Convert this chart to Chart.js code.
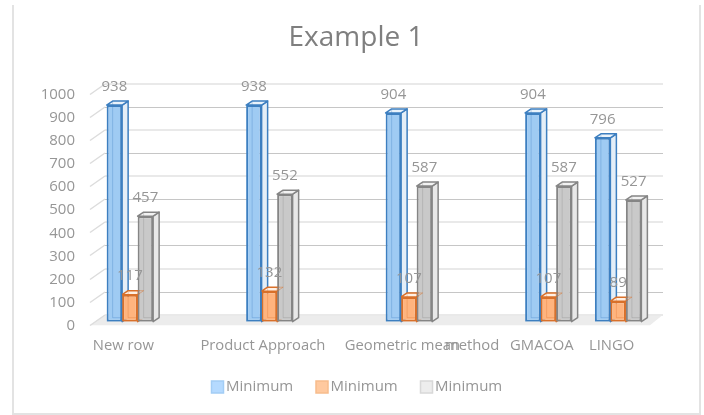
<!DOCTYPE html>
<html>
<head>
<meta charset="utf-8">
<title>Example 1</title>
<script src="https://cdn.jsdelivr.net/npm/chart.js@4"></script>
<style>
  html, body { margin: 0; padding: 0; background: #fff; }
  #wrap { position: relative; width: 704px; height: 415px; overflow: hidden; }
  #frame { position: absolute; left: 12px; top: 5px; width: 685px; height: 408px;
           border: 2px solid #e3e3e3; border-top: none; pointer-events: none; }
</style>
</head>
<body>
<div id="wrap">
  <div id="frame"></div>
  <canvas id="myChart" width="704" height="415"></canvas>
</div>
<script>
const categories = ['New row', '', 'Product Approach', '', 'Geometric mean', 'method', 'GMACOA', 'LINGO'];
const seriesNames = ['Minimum', 'Minimum', 'Minimum'];
const blueValues = [938, null, 938, null, 904, null, 904, 796];
const orangeValues = [117, null, 132, null, 107, null, 107, 89];
const greyValues = [457, null, 552, null, 587, null, 587, 527];
const yTicks = [0, 100, 200, 300, 400, 500, 600, 700, 800, 900, 1000];

const textColor = '#969696';
const fontFamily = "'Open Sans', sans-serif";

// depth of a bar and of the back wall
const barDx = 6, barDy = 4;
const wallDy = 7;

const looks = [
  { front: '#9fcbf3', side: '#e4eef7', top: '#eaf3fb', edge: '#3d7fc0', swatch: '#b5daff', swatchEdge: '#a3cdf5' },
  { front: '#ffb47e', side: '#fbdcc6', top: '#fff0e4', edge: '#d9702a', swatch: '#ffc99f', swatchEdge: '#f7bc8c' },
  { front: '#c9c9c9', side: '#e8e8e8', top: '#f2f2f2', edge: '#858585', swatch: '#ededed', swatchEdge: '#d8d8d8' }
];

function poly(c, pts, fill, stroke, width) {
  c.beginPath();
  pts.forEach((p, i) => i ? c.lineTo(p[0], p[1]) : c.moveTo(p[0], p[1]));
  c.closePath();
  if (fill) { c.fillStyle = fill; c.fill(); }
  if (stroke) { c.strokeStyle = stroke; c.lineWidth = width; c.lineJoin = 'round'; c.stroke(); }
}

function boxOf(bar) {
  const p = bar.getProps(['x', 'y', 'base', 'width'], true);
  return { l: p.x - p.width / 2, r: p.x + p.width / 2, t: p.y, b: p.base };
}

function eachBar(chart, d, fn) {
  chart.getDatasetMeta(d).data.forEach((bar, i) => {
    if (chart.data.datasets[d].data[i] !== null) fn(boxOf(bar));
  });
}

// title sits centred over the frame rather than the whole canvas
const titleShift = {
  id: 'titleShift',
  afterLayout(chart) { chart.titleBlock.left = 59; }
};

const wall = {
  id: 'wall',
  beforeDatasetsDraw(chart) {
    const c = chart.ctx, y = chart.scales.y;
    const backL = 105, backR = 663, frontL = 90, frontR = 650;
    c.save();
    const y0 = y.getPixelForValue(0);
    poly(c, [[frontL, y0 + 3.5], [backL, y0 - wallDy], [backR, y0 - wallDy], [frontR, y0 + 3.5]], '#ececec');
    yTicks.forEach(v => {
      const py = Math.round(y.getPixelForValue(v) - wallDy);
      const soft = v % 200 === 0;
      c.strokeStyle = soft ? '#e9e9e9' : '#c6c6c6';
      c.lineWidth = soft ? 2 : 1;
      const ly = soft ? py : py + 0.5;
      c.beginPath(); c.moveTo(backL, ly); c.lineTo(backR, ly); c.stroke();
      c.strokeStyle = '#dcdcdc';
      c.lineWidth = 1.5;
      c.beginPath(); c.moveTo(frontL, py + 10.5); c.lineTo(backL, py); c.stroke();
    });
    c.restore();
  }
};

// side and top faces go under the flat bars, the hidden back edges over them
const depth = {
  id: 'depth',
  beforeDatasetsDraw(chart) {
    const c = chart.ctx;
    c.save();
    looks.forEach((look, d) => eachBar(chart, d, b => {
      poly(c, [[b.r, b.t], [b.r + barDx, b.t - barDy], [b.r + barDx, b.b - barDy], [b.r, b.b]], look.side, look.edge, 1.5);
      poly(c, [[b.l, b.t], [b.l + barDx, b.t - barDy], [b.r + barDx, b.t - barDy], [b.r, b.t]], look.top, look.edge, 1.5);
    }));
    c.restore();
  },
  afterDatasetsDraw(chart) {
    const c = chart.ctx;
    c.save();
    c.lineWidth = 1;
    looks.forEach((look, d) => eachBar(chart, d, b => {
      c.globalAlpha = 0.3;
      c.strokeStyle = look.edge;
      c.beginPath();
      c.moveTo(b.l + barDx, b.t - barDy + 1);
      c.lineTo(b.l + barDx, b.b - barDy);
      c.lineTo(b.r - 1, b.b - barDy);
      c.stroke();
    }));
    // the orange lid shows through the grey bar next to it
    c.globalAlpha = 0.45;
    eachBar(chart, 1, b => {
      poly(c, [[b.r, b.t], [b.r + barDx, b.t - barDy], [b.r, b.t - barDy]], null, looks[1].edge, 1);
    });
    c.restore();
  }
};

const valueLabels = {
  id: 'valueLabels',
  afterDatasetsDraw(chart) {
    const c = chart.ctx;
    c.save();
    c.font = '15px ' + fontFamily;
    c.fillStyle = textColor;
    c.textAlign = 'center';
    c.textBaseline = 'middle';
    chart.data.datasets.forEach((ds, d) => {
      chart.getDatasetMeta(d).data.forEach((bar, i) => {
        if (ds.data[i] === null) return;
        c.fillText(ds.data[i], bar.x, bar.y - 18.5);
      });
    });
    c.restore();
  }
};

// legend row with tight swatch spacing
const keyRow = {
  id: 'keyRow',
  afterDraw(chart) {
    const c = chart.ctx;
    c.save();
    c.font = '15px ' + fontFamily;
    c.textBaseline = 'middle';
    chart.data.datasets.forEach((ds, d) => {
      const x = 211.5 + d * 104.5, y = 387;
      c.fillStyle = looks[d].swatch;
      c.strokeStyle = looks[d].swatchEdge;
      c.lineWidth = 1.5;
      c.fillRect(x, y - 6, 12, 12);
      c.strokeRect(x, y - 6, 12, 12);
      c.fillStyle = textColor;
      c.fillText(ds.label, x + 14.5, y);
    });
    c.restore();
  }
};

const barOptions = { categoryPercentage: 2 / 3, barPercentage: 1, borderWidth: 2, borderSkipped: false };

new Chart(document.getElementById('myChart'), {
  type: 'bar',
  data: {
    labels: categories,
    datasets: [
      { label: seriesNames[0], data: blueValues, backgroundColor: looks[0].front, borderColor: looks[0].edge, ...barOptions },
      { label: seriesNames[1], data: orangeValues, backgroundColor: looks[1].front, borderColor: looks[1].edge, ...barOptions },
      { label: seriesNames[2], data: greyValues, backgroundColor: looks[2].front, borderColor: looks[2].edge, ...barOptions }
    ]
  },
  plugins: [titleShift, wall, depth, valueLabels, keyRow],
  options: {
    responsive: false,
    animation: false,
    layout: {
      autoPadding: false,
      padding: { left: 0, right: 51, top: 0, bottom: 53.3 }
    },
    scales: {
      x: {
        grid: { display: false, drawTicks: false },
        border: { display: false },
        afterFit(scale) { scale.height = 40; },
        ticks: {
          autoSkip: false,
          maxRotation: 0,
          minRotation: 0,
          padding: 15,
          labelOffset: -6.5,
          color: textColor,
          font: { family: fontFamily, size: 14.8 }
        }
      },
      y: {
        min: 0,
        max: 1000,
        grid: { display: false, drawTicks: false },
        border: { display: false },
        afterFit(scale) { scale.width = 95; },
        ticks: {
          stepSize: 100,
          padding: 20,
          labelOffset: 4,
          color: textColor,
          font: { family: fontFamily, size: 15 },
          callback: value => String(value)
        }
      }
    },
    plugins: {
      legend: { display: false },
      tooltip: { enabled: false },
      title: {
        display: true,
        text: 'Example 1',
        color: '#7f7f7f',
        padding: { top: 21, bottom: 36.1 },
        font: { family: fontFamily, size: 28, weight: 'normal', lineHeight: 1.2 }
      }
    }
  }
});
</script>
</body>
</html>
